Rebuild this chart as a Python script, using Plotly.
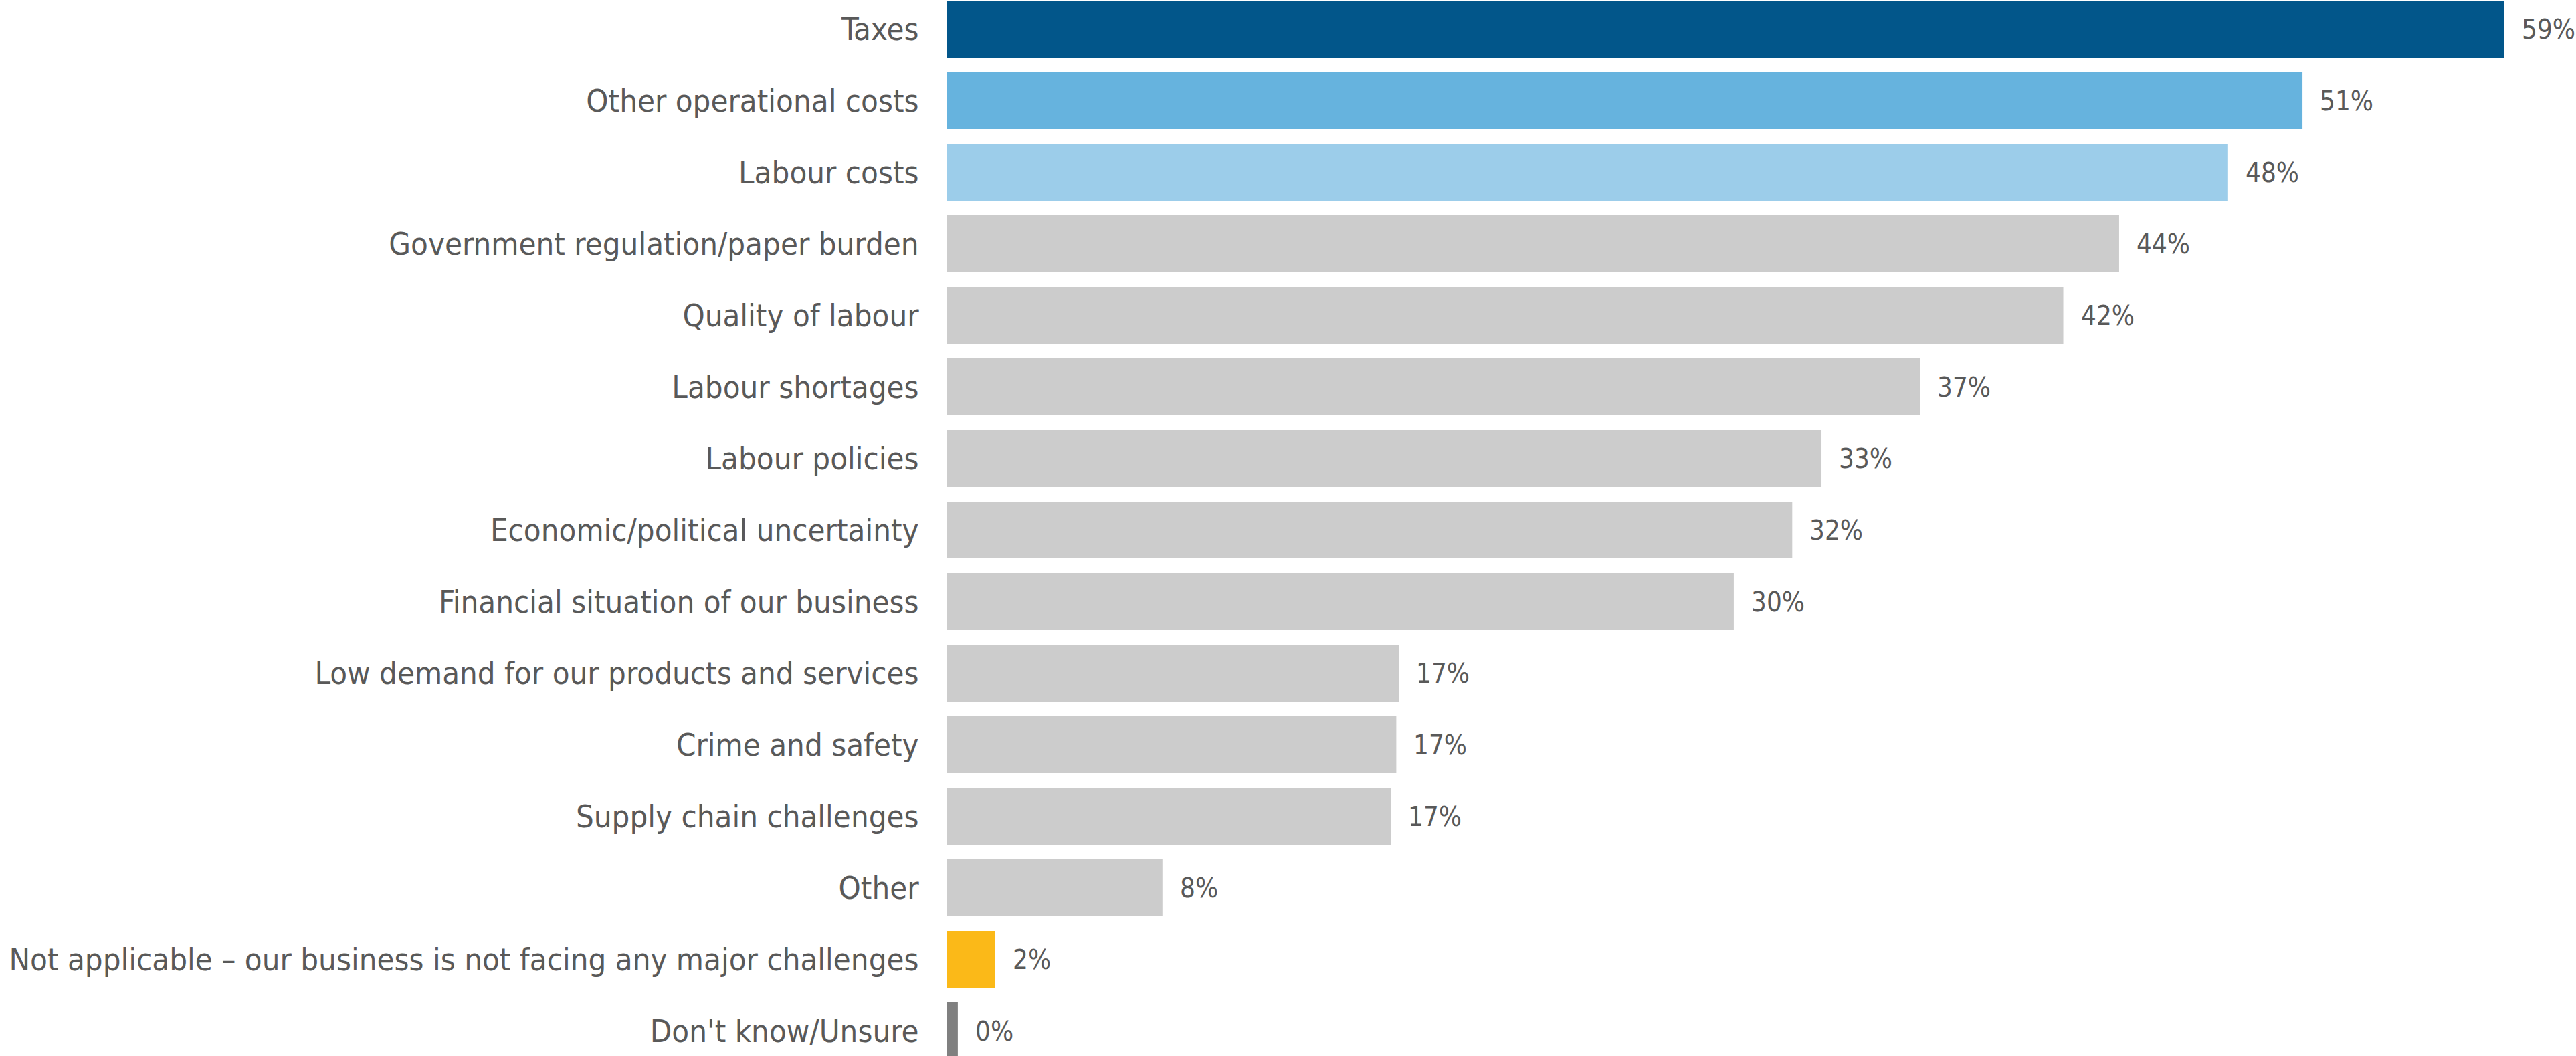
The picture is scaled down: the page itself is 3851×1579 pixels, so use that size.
import plotly.graph_objects as go

# Survey responses: main challenges facing businesses (share of respondents, %)
categories = [
    "Taxes",
    "Other operational costs",
    "Labour costs",
    "Government regulation/paper burden",
    "Quality of labour",
    "Labour shortages",
    "Labour policies",
    "Economic/political uncertainty",
    "Financial situation of our business",
    "Low demand for our products and services",
    "Crime and safety",
    "Supply chain challenges",
    "Other",
    "Not applicable \u2013 our business is not facing any major challenges",
    "Don't know/Unsure",
]
shares = [58.6, 51.0, 48.2, 44.1, 42.0, 36.6, 32.9, 31.8, 29.6, 17.0, 16.9, 16.7, 8.1, 1.8, 0.4]
bar_colors = [
    "#02568A", "#66B3DE", "#9CCDEA",
    "#CCCCCC", "#CCCCCC", "#CCCCCC", "#CCCCCC", "#CCCCCC", "#CCCCCC",
    "#CCCCCC", "#CCCCCC", "#CCCCCC", "#CCCCCC",
    "#FBB918", "#808080",
]

W, H = 3851, 1579
LEFT = 1416
TEXT_COLOR = "#595959"
FONT = "Liberation Sans Narrow, DejaVu Sans Condensed, Lato, sans-serif"

fig = go.Figure(
    go.Bar(
        x=shares,
        y=list(range(len(categories))),
        orientation="h",
        marker=dict(color=bar_colors, line=dict(width=0)),
        hoverinfo="skip",
    )
)

# value labels just past the end of each bar
for i, v in enumerate(shares):
    fig.add_annotation(
        x=v, y=i, text=f"{v:.0f}%",
        xanchor="left", yanchor="middle", xshift=24,
        showarrow=False,
        font=dict(family=FONT, size=40, color=TEXT_COLOR),
    )

pitch = 107.0
first_center = 43.5
top = -first_center / pitch
bottom = (len(categories) - 1) + (H - (first_center + pitch * (len(categories) - 1))) / pitch
px_per_unit = 2328 / 58.6

fig.update_layout(
    width=W, height=H,
    margin=dict(l=LEFT, r=0, t=0, b=0),
    plot_bgcolor="white", paper_bgcolor="white",
    bargap=1 - 85 / pitch,
    showlegend=False,
    xaxis=dict(
        range=[0, (W - LEFT) / px_per_unit],
        visible=False, fixedrange=True,
    ),
    yaxis=dict(
        range=[bottom, top],
        tickmode="array",
        tickvals=list(range(len(categories))),
        ticktext=categories,
        ticks="outside", ticklen=32, tickcolor="rgba(0,0,0,0)",
        showgrid=False, zeroline=False, showline=False,
        tickfont=dict(family=FONT, size=47, color=TEXT_COLOR),
        fixedrange=True,
    ),
)

fig.write_html("out.html", config={"displayModeBar": False})
